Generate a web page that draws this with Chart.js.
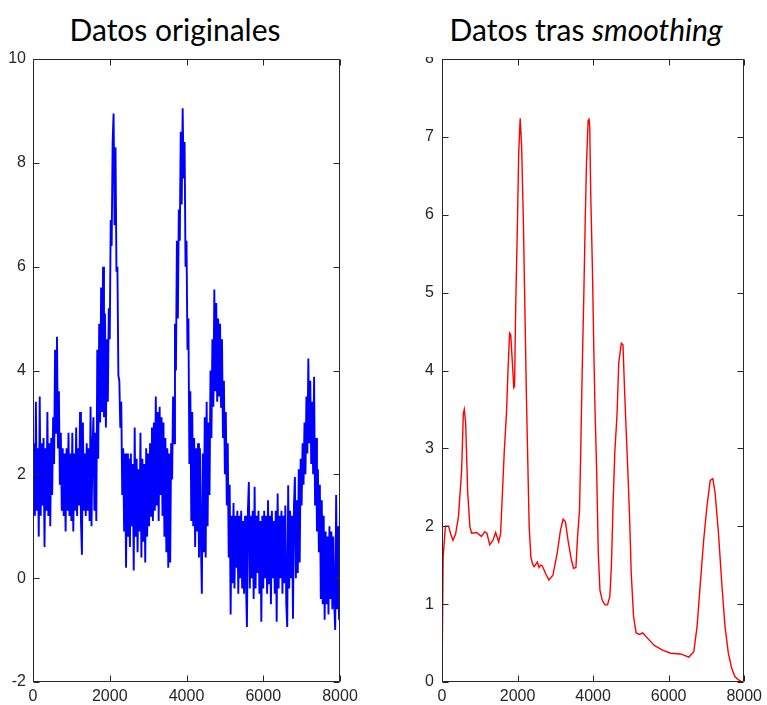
<!DOCTYPE html>
<html>
<head>
<meta charset="utf-8">
<script src="https://cdn.jsdelivr.net/npm/chart.js@4.4.1/dist/chart.umd.min.js"></script>
<style>
  html, body { margin: 0; padding: 0; background: #fff; width: 767px; height: 705px; overflow: hidden; }
  .title {
    position: absolute; top: 15px; line-height: 28px;
    font-family: Lato, "Open Sans", sans-serif; font-size: 30px; color: #000;
    white-space: nowrap; transform: translateX(-50%);
  }
  canvas { position: absolute; }
</style>
</head>
<body>
<div class="title" style="left:175px">Datos originales</div>
<div class="title" style="left:586px">Datos tras <i>smoothing</i></div>
<canvas id="chartOrig" width="383" height="705" style="left:0;top:0"></canvas>
<canvas id="chartSmooth" width="377" height="648" style="left:390px;top:57px"></canvas>

<script>
/* Two MATLAB-style panels: noisy signal (left) and its smoothed version (right). */
(function () {
  "use strict";

  // raw signal, one sample every ORIG_STEP units (0 .. 8000)
  const ORIG_STEP = 25;
  const ORIG_Y = [
    1.5, 2.6, 1.2, 3.4, 1.3, 2.5, 0.8, 3.5, 1.2, 2.6, 1.4, 2.7, 0.6, 2.5, 1.3, 3.2, 1.2, 2.6, 1.0, 2.7,
    1.6, 3.1, 2.2, 4.4, 2.8, 4.65, 2.5, 3.6, 1.8, 2.8, 1.3, 2.5, 1.2, 2.4, 0.9, 2.5, 1.3, 2.8, 1.2, 2.4,
    1.1, 2.8, 0.9, 2.4, 1.3, 2.9, 1.2, 2.5, 1.4, 3.2, 1.1, 0.45, 3.0, 1.3, 2.4, 1.2, 2.6, 1.3, 2.5, 1.1,
    3.3, 1.0, 2.5, 3.1, 1.3, 2.8, 1.1, 4.4, 2.3, 4.9, 3.0, 5.6, 3.2, 6.0, 3.1, 5.1, 2.9, 4.6, 3.4, 5.2,
    4.6, 6.9, 6.4, 8.4, 8.95, 6.8, 8.3, 5.9, 6.0, 3.9, 3.8, 2.9, 3.4, 1.6, 2.5, 0.9, 2.4, 0.2, 2.4, 0.8,
    2.3, 0.6, 2.4, 1.0, 2.2, 0.15, 2.9, 0.8, 2.3, 0.5, 2.1, 0.9, 2.8, 0.4, 2.3, 0.7, 2.2, 0.3, 2.5, 0.8,
    2.4, 1.0, 2.6, 1.2, 2.9, 1.1, 3.0, 1.3, 3.5, 1.4, 3.2, 1.1, 3.3, 1.6, 3.1, 1.2, 3.0, 0.8, 2.7, 0.5,
    2.5, 0.2, 2.4, 0.3, 2.6, 1.9, 3.5, 2.6, 4.9, 4.0, 6.5, 5.0, 7.1, 6.5, 8.6, 7.2, 9.05, 7.7, 8.4, 6.0,
    6.5, 4.4, 5.0, 2.2, 3.6, 1.1, 3.2, 1.0, 2.7, 0.6, 2.5, 0.9, 2.6, 0.4, 2.5, 0.7, -0.3, 2.4, 0.5, 3.1,
    0.4, 3.4, 1.0, 3.0, 1.6, 4.0, 2.7, 4.6, 3.3, 5.56, 3.6, 5.3, 3.4, 5.0, 3.5, 4.9, 3.3, 4.6, 2.7, 3.8,
    2.0, 3.2, 1.4, 2.6, 0.4, 1.8, -0.7, 1.2, -0.1, 1.45, -0.2, 1.2, 0.2, 1.3, -0.3, 1.2, 0.0, 1.3, -0.2, 1.1,
    -0.3, 1.2, -0.1, -0.94, 1.3, 1.85, -0.2, 1.2, 0.0, 1.3, -0.4, 1.76, -0.2, 1.2, 0.1, 1.3, -0.3, 1.1, -0.84, 1.2,
    -0.2, 1.3, 0.0, 1.2, -0.3, 1.5, -0.1, 1.2, -0.5, 1.3, 0.0, 1.1, -0.3, 1.3, -0.84, 1.63, -0.2, 1.2, 0.0, 1.3,
    -0.3, 1.2, -0.1, 1.4, -0.5, -0.94, 1.79, -0.2, 1.3, 0.0, 1.2, -0.78, 1.4, 1.95, 0.0, 1.5, 0.1, 2.1, 0.3, 2.3,
    1.4, 2.6, 1.8, 3.0, 2.0, 3.5, 2.4, 4.23, 2.6, 3.8, 2.2, 3.4, 2.0, 3.88, 1.4, 2.7, 0.9, 2.1, 0.5, 1.8,
    -0.4, 1.5, -0.5, 1.2, -0.8, 0.9, -0.5, 0.8, -0.7, 1.0, -0.4, 0.9, -0.6, 0.8, -0.5, -1.0, 1.6, -0.6, 1.0, -0.8,
    1.5
  ];

  // smoothed signal, read at irregular x positions
  const SMOOTH_X = [
    0, 30, 90, 175, 230, 290, 360, 435, 520, 565, 590, 627, 680, 740, 785, 915, 1045, 1130, 1190, 1262,
    1350, 1420, 1500, 1550, 1595, 1650, 1707, 1751, 1790, 1820, 1864, 1900, 1920, 1951, 1995, 2030, 2070, 2108, 2152, 2196,
    2238, 2274, 2308, 2352, 2395, 2439, 2525, 2570, 2614, 2656, 2745, 2831, 2936, 3048, 3137, 3205, 3267, 3336, 3424, 3484,
    3545, 3589, 3640, 3670, 3700, 3720, 3755, 3790, 3825, 3869, 3890, 3911, 3937, 3981, 4016, 4051, 4094, 4137, 4181, 4242,
    4313, 4381, 4443, 4485, 4530, 4574, 4635, 4679, 4747, 4791, 4836, 4878, 4922, 4966, 5009, 5071, 5139, 5228, 5314, 5445,
    5620, 5837, 6054, 6316, 6535, 6666, 6752, 6839, 6927, 7013, 7100, 7170, 7231, 7319, 7406, 7492, 7580, 7667, 7753, 7842,
    7950
  ];
  const SMOOTH_Y = [
    0, 1.6, 2.0, 2.0, 1.9, 1.82, 1.9, 2.12, 2.72, 3.45, 3.5, 3.32, 2.43, 1.99, 1.91, 1.92, 1.87, 1.93, 1.91, 1.76,
    1.82, 1.92, 1.8, 1.9, 2.38, 2.98, 3.45, 4.05, 4.48, 4.46, 4.09, 3.78, 3.8, 4.82, 5.84, 6.79, 7.24, 6.87, 5.97, 4.74,
    3.58, 2.76, 1.99, 1.61, 1.52, 1.48, 1.54, 1.47, 1.5, 1.49, 1.39, 1.31, 1.37, 1.65, 1.95, 2.09, 2.06, 1.82, 1.57, 1.46,
    1.47, 1.87, 2.2, 2.9, 3.7, 4.2, 4.99, 5.89, 6.66, 7.21, 7.24, 7.13, 6.28, 5.33, 4.35, 3.5, 2.72, 1.66, 1.18, 1.05,
    0.99, 0.99, 1.1, 1.5, 2.3, 2.94, 3.45, 4.1, 4.35, 4.33, 3.71, 3.2, 2.68, 2.12, 1.4, 0.84, 0.63, 0.61, 0.63, 0.56,
    0.47, 0.41, 0.37, 0.36, 0.32, 0.39, 0.71, 1.27, 1.82, 2.25, 2.59, 2.61, 2.42, 1.91, 1.27, 0.71, 0.37, 0.18, 0.07, 0.03,
    0
  ];

  const X_MIN = 0, X_MAX = 8000, X_STEP = 2000;
  const ORIG_Y_MIN = -2, ORIG_Y_MAX = 10, ORIG_Y_STEP = 2;
  const SMOOTH_Y_MIN = 0, SMOOTH_Y_MAX = 8, SMOOTH_Y_STEP = 1;

  const AXIS_COLOR = "#262626";
  const TICK_FONT = { family: "'Liberation Sans', Arial, sans-serif", size: 16 };
  const TICK_LEN = 6;

  // MATLAB-like box with inward ticks on all four sides
  const boxTicks = {
    id: "boxTicks",
    afterDraw(chart) {
      const { ctx, chartArea: a, scales: { x, y } } = chart;
      const L = Math.round(a.left) + 0.5, R = Math.round(a.right) - 0.5;
      const T = Math.round(a.top) + 0.5, B = Math.round(a.bottom) - 0.5;
      ctx.save();
      ctx.strokeStyle = AXIS_COLOR;
      ctx.lineWidth = 1;
      ctx.beginPath();
      ctx.rect(L, T, R - L, B - T);
      x.ticks.forEach(t => {
        const px = Math.round(x.getPixelForValue(t.value)) + 0.5;
        ctx.moveTo(px, B); ctx.lineTo(px, B - TICK_LEN);
        ctx.moveTo(px, T); ctx.lineTo(px, T + TICK_LEN);
      });
      y.ticks.forEach(t => {
        const py = Math.round(y.getPixelForValue(t.value)) + 0.5;
        ctx.moveTo(L, py); ctx.lineTo(L + TICK_LEN, py);
        ctx.moveTo(R, py); ctx.lineTo(R - TICK_LEN, py);
      });
      ctx.stroke();
      ctx.restore();
    }
  };

  const plainNumber = v => String(v);

  function makeChart(canvasId, points, color, lineWidth, yMin, yMax, yStep, yAxisWidth, pad, yPad) {
    return new Chart(document.getElementById(canvasId), {
      type: "line",
      data: {
        datasets: [{
          data: points,
          borderColor: color,
          borderWidth: lineWidth,
          pointRadius: 0,
          tension: 0,
          fill: false
        }]
      },
      options: {
        responsive: false,
        animation: false,
        events: [],
        layout: { padding: pad },
        plugins: { legend: { display: false }, tooltip: { enabled: false } },
        scales: {
          x: {
            type: "linear", min: X_MIN, max: X_MAX,
            grid: { display: false, drawTicks: false },
            border: { display: false },
            ticks: { stepSize: X_STEP, padding: 5, color: AXIS_COLOR, font: TICK_FONT, maxRotation: 0, callback: plainNumber },
            afterFit: s => { s.height = 23; }
          },
          y: {
            type: "linear", min: yMin, max: yMax,
            grid: { display: false, drawTicks: false },
            border: { display: false },
            ticks: { stepSize: yStep, padding: yPad, color: AXIS_COLOR, font: TICK_FONT, callback: plainNumber },
            afterFit: s => { s.width = yAxisWidth; s.paddingTop = 0; s.paddingBottom = 0; }
          }
        }
      },
      plugins: [boxTicks]
    });
  }

  const origPoints = ORIG_Y.map((v, i) => ({ x: i * ORIG_STEP, y: v }));
  const smoothPoints = SMOOTH_X.map((v, i) => ({ x: v, y: SMOOTH_Y[i] }));

  makeChart("chartOrig", origPoints, "#0000ff", 1.9,
    ORIG_Y_MIN, ORIG_Y_MAX, ORIG_Y_STEP, 33, { top: 59, right: 43, left: 0, bottom: 0 }, 7);
  makeChart("chartSmooth", smoothPoints, "#ff0000", 1.4,
    SMOOTH_Y_MIN, SMOOTH_Y_MAX, SMOOTH_Y_STEP, 52, { top: 2, right: 19, left: 0, bottom: 0 }, 8);
})();
</script>
</body>
</html>
